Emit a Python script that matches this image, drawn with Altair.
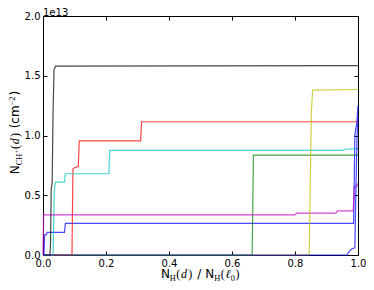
import altair as alt
import pandas as pd

# x: N_H(d) / N_H(l0) ; y: N_CH+(d) in units of 1e13 cm^-2
b1_x = [0.0, 0.003, 0.005, 0.006, 0.011, 0.013, 0.068, 0.071, 0.986, 0.988, 0.990, 0.993, 0.996, 1.0]
b1_y = [0.0, 0.0, 0.15, 0.17, 0.17, 0.19, 0.19, 0.265, 0.265, 0.6, 1.0, 1.06, 1.1, 1.25]

g_x = [0.0, 0.664, 0.668, 1.0]
g_y = [0.0, 0.0, 0.835, 0.835]

r_x = [0.0, 0.092, 0.095, 0.100, 0.112, 0.115, 0.310, 0.313, 1.0]
r_y = [0.0, 0.0, 0.72, 0.73, 0.74, 0.955, 0.955, 1.115, 1.115]

c_x = [0.0, 0.032, 0.036, 0.040, 0.068, 0.071, 0.209, 0.212, 0.955, 0.958, 1.0]
c_y = [0.0, 0.0, 0.55, 0.61, 0.61, 0.68, 0.68, 0.875, 0.875, 0.885, 0.89]

m_x = [0.0, 0.002, 0.800, 0.805, 0.930, 0.935, 0.985, 0.988, 0.995, 1.0]
m_y = [0.0, 0.335, 0.335, 0.35, 0.35, 0.37, 0.37, 0.57, 0.57, 0.6]

y_x = [0.0, 0.845, 0.852, 0.856, 1.0]
y_y = [0.0, 0.0, 1.2, 1.38, 1.385]

k_x = [0.0, 0.022, 0.024, 0.026, 0.029, 0.032, 0.035, 0.040, 0.980, 1.0]
k_y = [0.0, 0.0, 0.1, 0.55, 0.6, 1.2, 1.55, 1.58, 1.585, 1.585]

b2_x = [0.0, 0.965, 0.972, 0.980, 0.990, 0.993, 0.997, 1.0]
b2_y = [0.0, 0.0, 0.03, 0.05, 0.06, 0.5, 1.0, 1.15]

series = [
    (b1_x, b1_y, "#0000ff"),
    (g_x, g_y, "#008000"),
    (r_x, r_y, "#ff0000"),
    (c_x, c_y, "#00bfbf"),
    (m_x, m_y, "#bf00bf"),
    (y_x, y_y, "#bfbf00"),
    (k_x, k_y, "#000000"),
    (b2_x, b2_y, "#0000ff"),
]

x_ticks = [0.0, 0.2, 0.4, 0.6, 0.8, 1.0]
y_ticks = [0.0, 0.5, 1.0, 1.5, 2.0]

W, H = 315, 239
xs = alt.Scale(domain=[0, 1], nice=False, zero=False)
ys = alt.Scale(domain=[0, 2], nice=False, zero=False)


def df(a, b):
    return pd.DataFrame({"x": a, "y": b})


ax_common = dict(domain=False, grid=False, tickSize=4, tickColor="black", tickWidth=1,
                 offset=-4, title=None, labelFont="DejaVu Sans", labelFontSize=10,
                 labelColor="black", labelPadding=3, labelFlush=False, labelOverlap=False,
                 format=".1f")


def axis(orient, values, labels):
    return alt.Axis(orient=orient, values=values, labels=labels, **ax_common)


layers = []
for xv, yv, col in series:
    layers.append(
        alt.Chart(df(xv, yv)).mark_line(color=col, opacity=0.72, strokeWidth=1.2).encode(
            x=alt.X("x:Q", scale=xs, axis=None),
            y=alt.Y("y:Q", scale=ys, axis=None),
        )
    )

axes_bl = alt.Chart(df(b1_x, b1_y)).mark_line(opacity=0).encode(
    x=alt.X("x:Q", scale=xs, axis=axis("bottom", x_ticks, True)),
    y=alt.Y("y:Q", scale=ys, axis=axis("left", y_ticks, True)),
)
axes_tr = alt.Chart(df(b1_x, b1_y)).mark_line(opacity=0).encode(
    x=alt.X("x:Q", scale=xs, axis=axis("top", x_ticks, False)),
    y=alt.Y("y:Q", scale=ys, axis=axis("right", y_ticks, False)),
)

one = pd.DataFrame({"_": [0]})


def txt(s, x, y, size, font="DejaVu Sans", style="normal", angle=0):
    return alt.Chart(one).mark_text(
        text=s, font=font, fontSize=size, fontStyle=style, angle=angle,
        align="left", baseline="alphabetic", color="black"
    ).encode(x=alt.value(x), y=alt.value(y))


SANS = {"N": .748, "(": .390, ")": .390, "c": .550, "m": .974, "/": .337}
SERIF = {"H": .76, "C": .70, "+": .64, "(": .39, ")": .39, "d": .60, "ℓ": .45,
         "0": .55, "−": .64, "2": .55}


def width(s, font, size):
    if font is None:
        return size  # explicit gap
    tab = SANS if font == "DejaVu Sans" else SERIF
    return sum(tab.get(ch, 0.55) for ch in s) * size


S, SUB = 12, 8.4
SERIF_F = "Liberation Serif"
# (text, font, size, style, shift) ; shift >0 = below baseline ; font None = gap
x_title = [
    ("N", "DejaVu Sans", S, "normal", 0),
    ("H", SERIF_F, SUB, "normal", 2.5),
    ("(", SERIF_F, S, "normal", 0),
    ("d", SERIF_F, S, "italic", 0),
    (")", SERIF_F, S, "normal", 0),
    ("", None, 4.5, "normal", 0),
    ("/", "DejaVu Sans", S, "normal", 0),
    ("", None, 4.0, "normal", 0),
    ("N", "DejaVu Sans", S, "normal", 0),
    ("H", SERIF_F, SUB, "normal", 2.5),
    ("(", SERIF_F, S, "normal", 0),
    ("ℓ", SERIF_F, S, "italic", 0),
    ("0", SERIF_F, SUB, "normal", 2.5),
    (")", SERIF_F, S, "normal", 0),
]
y_title = [
    ("N", "DejaVu Sans", S, "normal", 0),
    ("CH", SERIF_F, SUB, "normal", 2.5),
    ("+", SERIF_F, 6.5, "normal", -0.5),
    ("(", SERIF_F, S, "normal", 0),
    ("d", SERIF_F, S, "italic", 0),
    (")", SERIF_F, S, "normal", 0),
    ("", None, 4.0, "normal", 0),
    ("(cm", "DejaVu Sans", S, "normal", 0),
    ("−2", SERIF_F, SUB, "normal", -4.5),
    (")", "DejaVu Sans", S, "normal", 0),
]

text_layers = []
tot = sum(width(p[0], p[1], p[2]) for p in x_title)
cx = W / 2 - tot / 2
base_y = H + 23
for s, f, sz, st, sh in x_title:
    if f is not None:
        text_layers.append(txt(s, cx, base_y + sh, sz, f, st))
    cx += width(s, f, sz)

tot = sum(width(p[0], p[1], p[2]) for p in y_title)
cy = H / 2 + tot / 2 - 3
base_x = -24
for s, f, sz, st, sh in y_title:
    if f is not None:
        text_layers.append(txt(s, base_x + sh, cy, sz, f, st, angle=270))
    cy -= width(s, f, sz)

text_layers.append(txt("1e13", 0, -0.5, 10))

chart = alt.layer(*layers, axes_bl, axes_tr, *text_layers).resolve_axis(
    x="independent", y="independent"
).properties(
    width=W, height=H,
    autosize=alt.AutoSizeParams(type="none"),
    padding={"left": 35, "top": 8, "right": 8, "bottom": 27},
).configure_view(stroke="black", strokeWidth=1)

chart.save("out.html", embed_options={"renderer": "svg", "actions": False})
